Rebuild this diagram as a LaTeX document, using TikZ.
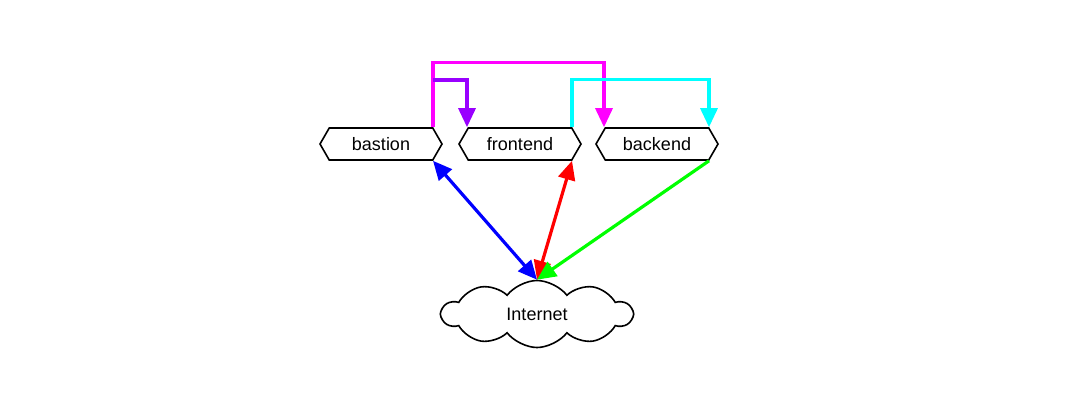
\documentclass[tikz,border=0pt]{standalone}
\usepackage{fontspec}
\setmainfont{Liberation Sans}
\usetikzlibrary{arrows.meta, shapes.symbols, calc}
\definecolor{sshpurple}{RGB}{153,0,255}
\definecolor{sshmagenta}{RGB}{255,0,255}
\definecolor{appcyan}{RGB}{0,255,255}
\definecolor{webblue}{RGB}{0,0,255}
\definecolor{webred}{RGB}{255,0,0}
\definecolor{outgreen}{RGB}{0,255,0}
\tikzset{
  host/.style  = {signal, signal to=west and east, signal pointer angle=120,
                  draw, line width=1.6pt, fill=white, minimum width=122pt,
                  minimum height=32pt, inner sep=0pt, font=\fontsize{18}{20}\selectfont},
  net/.style   = {cloud, cloud puffs=10, cloud puff arc=105, aspect=2.8, draw,
                  line width=1.6pt, fill=white, minimum width=190pt, minimum height=67pt,
                  inner sep=0pt, font=\fontsize{18}{20}\selectfont},
  link/.style  = {line width=3.2pt, -{Triangle[length=19pt, width=17pt]}},
  dlink/.style = {line width=3.2pt, {Triangle[length=19pt, width=17pt]}-{Triangle[length=19pt, width=17pt]}},
}

\begin{document}
\begin{tikzpicture}[x=1pt, y=-1pt]
  \useasboundingbox (0,0) rectangle (1089,405);
  % hosts
  \foreach \n/\x in {bastion/381, frontend/520, backend/657} {
    \node[host] (\n) at (\x,144) {\n};
    \coordinate (\n-ne) at ([xshift=52pt]\n.north);
    \coordinate (\n-nw) at ([xshift=-53pt]\n.north);
    \coordinate (\n-se) at ([xshift=52pt]\n.south);
  }
  \node[net] (internet) at (537,314) {Internet};
  % ssh jumps
  \coordinate (fork) at (433,80);
  \draw[link, sshmagenta] (bastion-ne) -- ++(0,-65) -| (backend-nw);
  \draw[link, sshpurple] (fork) -| (frontend-nw);
  \draw[link, appcyan] (frontend-ne) -- ++(0,-48) -| (backend-ne);
  % internet traffic
  \draw[dlink, webblue] (bastion-se) -- (internet.north);
  \draw[dlink, webred] (frontend-se) -- (internet.north);
  \draw[link, outgreen] (backend-se) -- (internet.north);
\end{tikzpicture}
\end{document}
